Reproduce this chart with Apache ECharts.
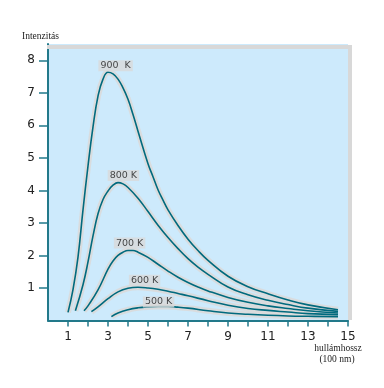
<!DOCTYPE html>
<html>
<head>
<meta charset="utf-8">
<script src="https://cdn.jsdelivr.net/npm/echarts@6/dist/echarts.min.js"></script>
<style>
html,body{margin:0;padding:0;background:#fff;}
#c{width:384px;height:388px;}
</style>
</head>
<body>
<div id="c"></div>
<script>
// ---- data ----
const xTickValues = [1,2,3,4,5,6,7,8,9,10,11,12,13,14,15];
const xLabelValues = [1,3,5,7,9,11,13,15];
const yTickValues = [1,2,3,4,5,6,7,8];

const curve900 = [[1.0,0.25],[1.25,0.95],[1.5,1.95],[1.75,3.4],[2.0,4.75],[2.25,5.95],[2.5,6.9],[2.75,7.42],[3.0,7.63],[3.25,7.58],[3.5,7.42],[3.75,7.15],[4.0,6.8],[4.25,6.33],[4.5,5.82],[5.0,4.82],[5.25,4.42],[5.5,4.02],[5.75,3.7],[6.0,3.4],[6.5,2.92],[7.0,2.5],[7.5,2.15],[8.0,1.85],[9.0,1.36],[10.0,1.04],[11.0,0.82],[12.0,0.63],[13.0,0.48],[14.5,0.33]];
const curve800 = [[1.37,0.3],[1.75,1.1],[2.0,1.8],[2.25,2.6],[2.5,3.28],[2.75,3.72],[3.0,3.98],[3.25,4.16],[3.5,4.24],[3.75,4.2],[4.0,4.09],[4.5,3.76],[5.0,3.35],[5.5,2.93],[6.0,2.55],[6.5,2.21],[7.0,1.9],[7.5,1.64],[8.0,1.42],[9.0,1.03],[10.0,0.79],[11.0,0.62],[12.0,0.49],[13.0,0.38],[14.5,0.28]];
const curve700 = [[1.8,0.3],[2.0,0.45],[2.5,0.94],[3.0,1.58],[3.25,1.83],[3.5,2.0],[3.75,2.1],[4.0,2.15],[4.25,2.15],[4.5,2.1],[5.0,1.94],[5.5,1.73],[6.0,1.52],[6.5,1.33],[7.0,1.17],[7.5,1.03],[8.0,0.91],[9.0,0.71],[10.0,0.56],[11.0,0.45],[12.0,0.37],[13.0,0.3],[14.5,0.23]];
const curve600 = [[2.17,0.27],[2.5,0.42],[3.0,0.67],[3.5,0.88],[4.0,0.99],[4.5,1.02],[5.0,1.0],[5.5,0.96],[6.0,0.9],[6.5,0.83],[7.0,0.76],[8.0,0.61],[9.0,0.47],[10.0,0.37],[11.0,0.31],[12.0,0.26],[13.0,0.21],[14.5,0.18]];
const curve500 = [[3.17,0.12],[3.5,0.23],[4.0,0.33],[4.5,0.39],[5.0,0.42],[5.5,0.43],[6.0,0.43],[6.5,0.41],[7.0,0.38],[8.0,0.3],[9.0,0.23],[10.0,0.19],[11.0,0.16],[12.0,0.14],[13.0,0.13],[14.5,0.12]];

const curveNames = ['900  K','800 K','700 K','600 K','500 K'];
const labelAnchors = [[3.38,7.83],[3.77,4.46],[4.08,2.38],[4.83,1.24],[5.53,0.57]];

const yAxisTitle = 'Intenzitás';
const xAxisTitle = ['hullámhossz','(100 nm)'];

// ---- chart ----
const curves = [curve900, curve800, curve700, curve600, curve500];
const lineColor = '#006a7e';
const axisColor = '#22798a';
const series = [];
curves.forEach((d,i)=>{
  series.push({type:'line', data:d, smooth:0.45, symbol:'none', silent:true, z:1,
    lineStyle:{color:'#dadada', width:6, opacity:0.9}});
});
curves.forEach((d,i)=>{
  series.push({type:'line', name:curveNames[i], data:d, smooth:0.45, symbol:'none', z:3,
    lineStyle:{color:lineColor, width:1.6}});
});
series.push({type:'scatter', symbolSize:0, z:5,
  data: labelAnchors.map((p,i)=>({value:p, name:curveNames[i]})),
  label:{show:true, position:'inside', formatter:p=>p.name, color:'#1a1a1a',
    fontFamily:'DejaVu Sans', fontSize:9.5, backgroundColor:'#dadada', padding:[1,2,0,2]}
});

const chart = echarts.init(document.getElementById('c'), null, {renderer:'canvas'});
chart.setOption({
  animation:false,
  backgroundColor:'#ffffff',
  grid:{left:48, right:36, top:44, bottom:67.5, show:true, backgroundColor:'#cdeafc', borderWidth:0},
  xAxis:{type:'value', min:0, max:15, interval:1,
    axisLine:{show:true, lineStyle:{color:axisColor, width:2}},
    axisTick:{show:true, customValues:xTickValues, length:6, lineStyle:{color:axisColor, width:1.5}},
    axisLabel:{customValues:xLabelValues, color:'#222', fontFamily:'DejaVu Sans', fontSize:12, margin:10},
    splitLine:{show:false}},
  yAxis:{type:'value', min:0, max:8.5, interval:1,
    axisLine:{show:true, lineStyle:{color:axisColor, width:2}},
    axisTick:{show:true, customValues:yTickValues, length:9, lineStyle:{color:axisColor, width:1.5}},
    axisLabel:{customValues:yTickValues, color:'#222', fontFamily:'DejaVu Sans', fontSize:12, margin:13},
    splitLine:{show:false}},
  graphic:[
    {type:'rect', shape:{x:47, y:45, width:305, height:4}, style:{fill:'#d8d8d8'}, z:10},
    {type:'rect', shape:{x:348, y:45, width:4, height:275}, style:{fill:'#d8d8d8'}, z:10},
    {type:'text', left:22, top:31, style:{text:yAxisTitle, fill:'#222', font:'9.5px "Liberation Serif"'}},
    {type:'text', x:338, y:343, style:{text:xAxisTitle[0], fill:'#222', font:'9.5px "Liberation Serif"', textAlign:'center'}},
    {type:'text', x:337, y:354, style:{text:xAxisTitle[1], fill:'#222', font:'9.5px "Liberation Serif"', textAlign:'center'}}
  ],
  series: series
});
</script>
</body>
</html>
